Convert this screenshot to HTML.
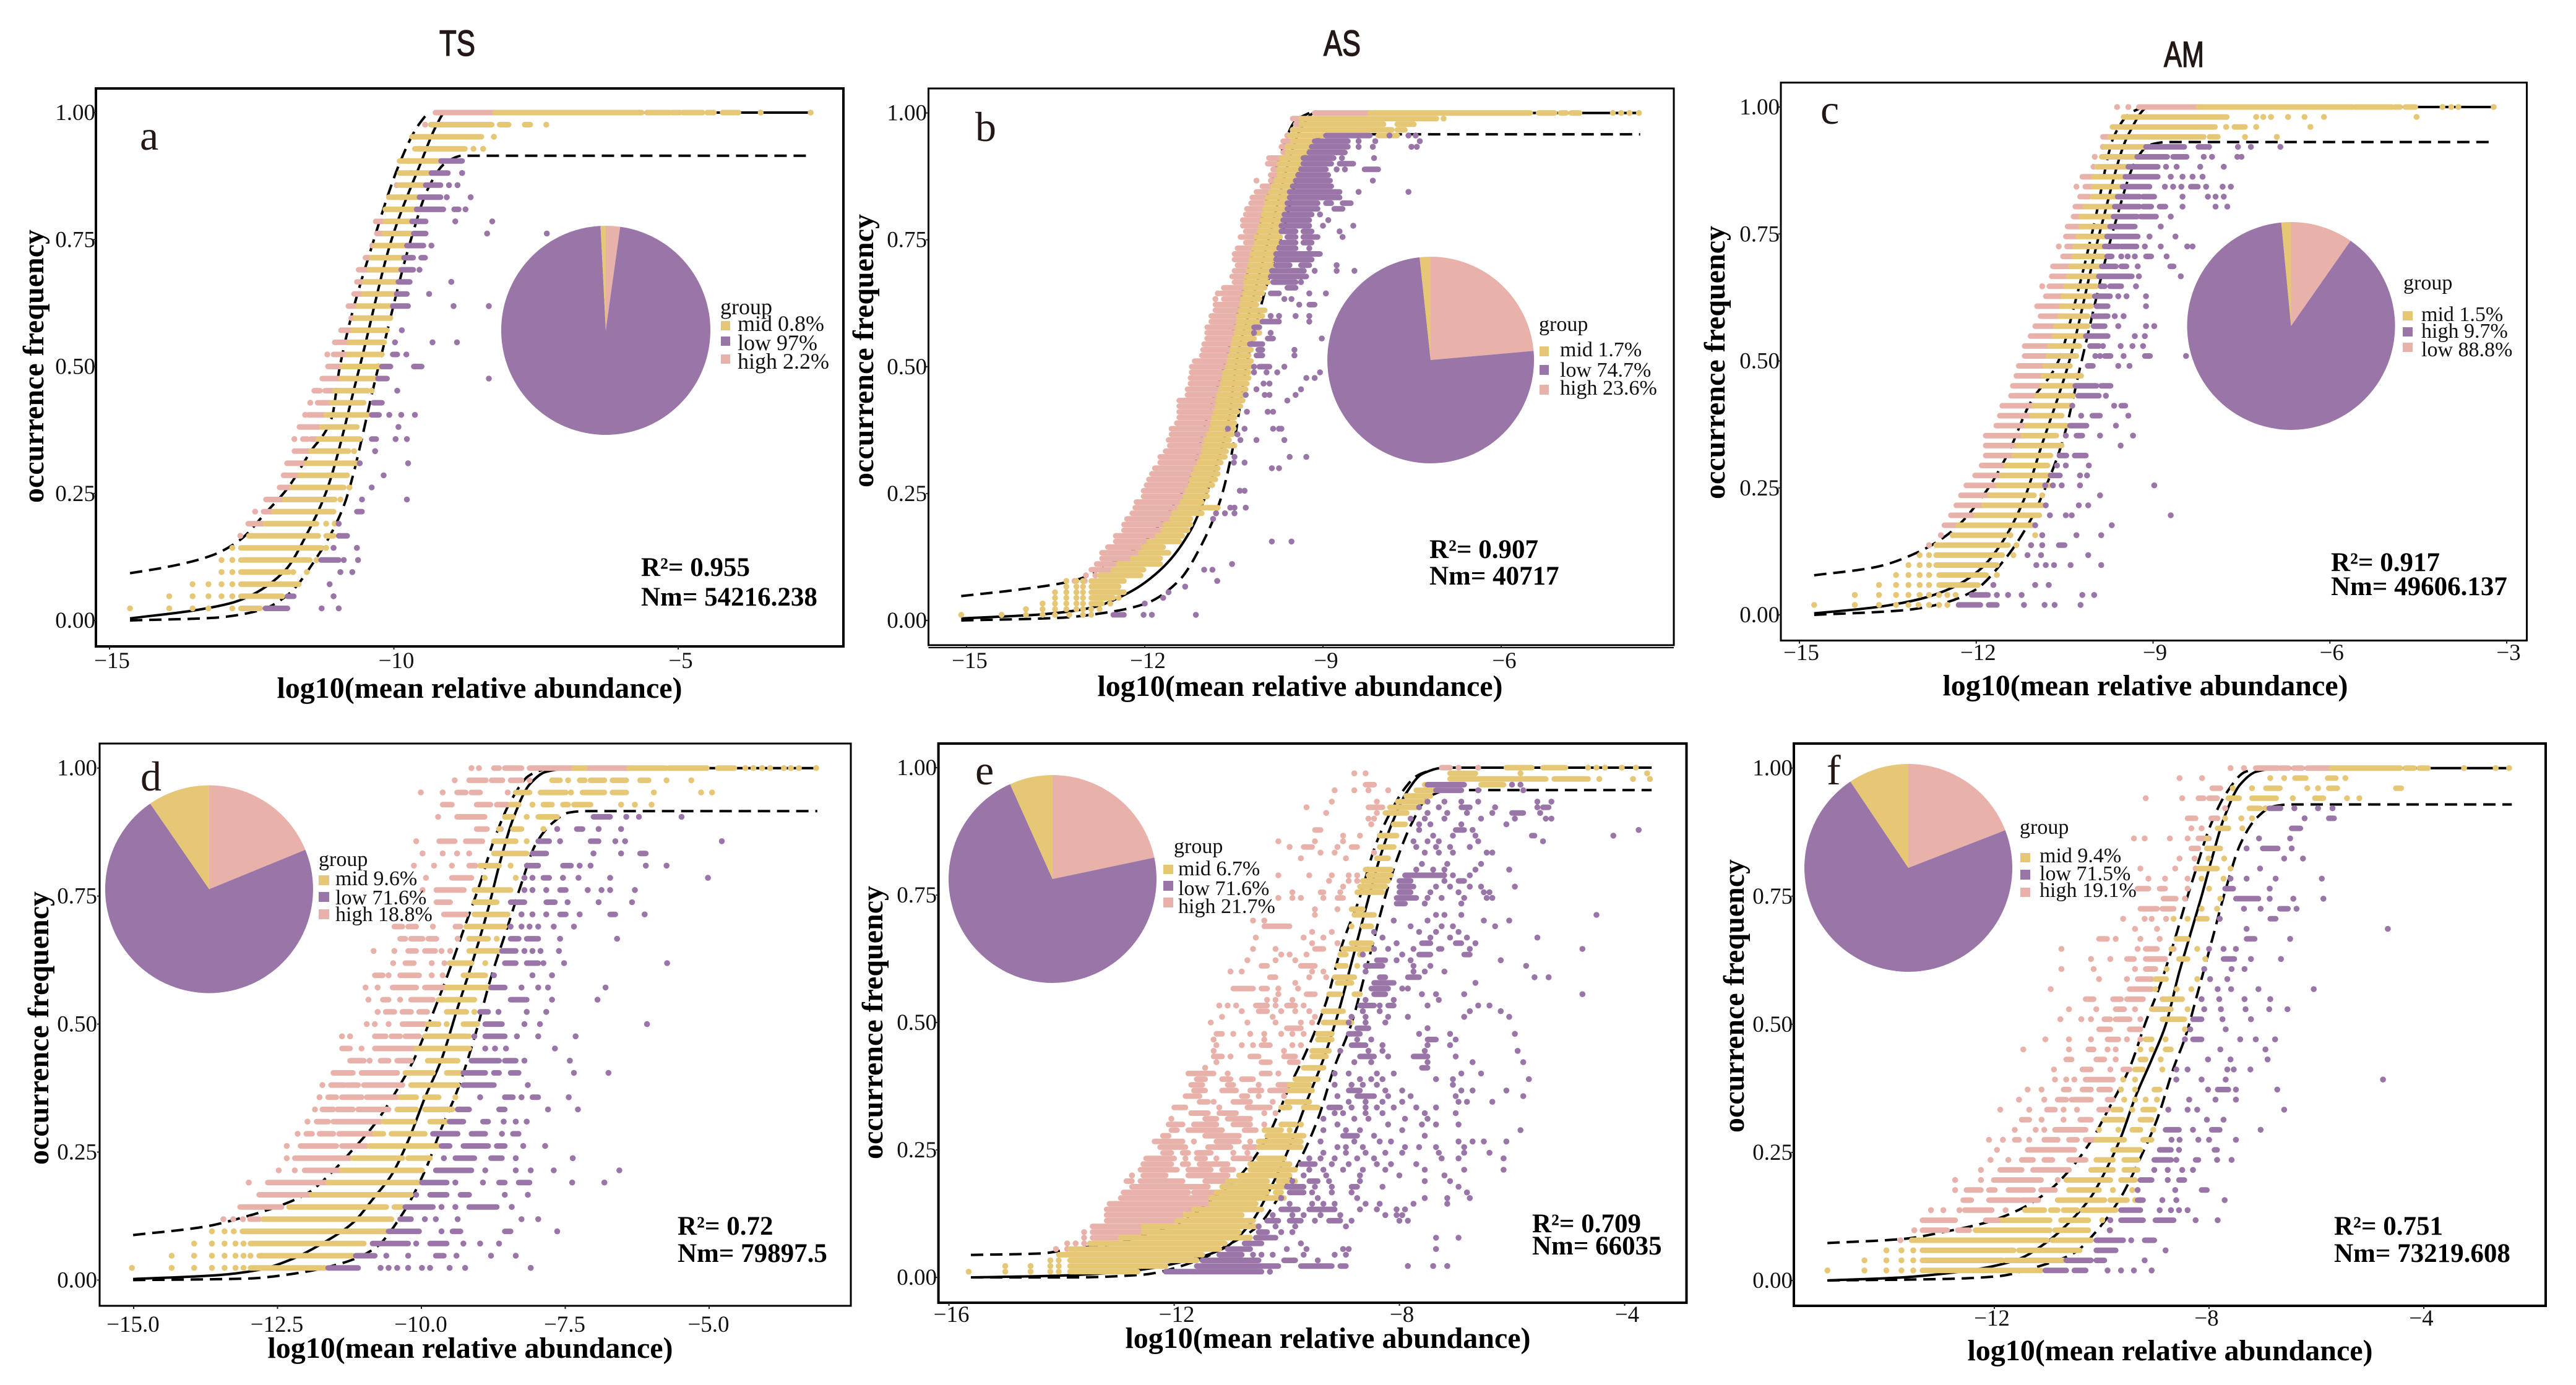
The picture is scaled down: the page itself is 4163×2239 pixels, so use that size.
<!DOCTYPE html>
<html lang="en">
<head>
<meta charset="utf-8">
<title>Neutral community model fits</title>
<style>
html,body{margin:0;padding:0;background:#fff}
svg{display:block}
text{font-family:"Liberation Serif","Noto Serif CJK SC",serif;fill:#000}
.tick{font-size:37px;fill:#111}
.axt{font-size:48px;font-weight:bold}
.leg{font-size:34px;fill:#111}
#panel-a .leg{font-size:36px}
.stat{font-size:43px;font-weight:bold}
.lab{font-size:68px;fill:#231815}
.ttl{font-family:"Liberation Sans","Noto Sans CJK SC",sans-serif;font-size:58px;fill:#231815;stroke:#231815;stroke-width:1.5px}
</style>
</head>
<body>
<svg id="fig" xmlns="http://www.w3.org/2000/svg" width="4163" height="2239" viewBox="0 0 4163 2239">
<rect width="4163" height="2239" fill="#fff"/>

<text class="ttl" x="710" y="90" textLength="58" lengthAdjust="spacingAndGlyphs">TS</text>
<text class="ttl" x="2139" y="90" textLength="60" lengthAdjust="spacingAndGlyphs">AS</text>
<text class="ttl" x="3497" y="108" textLength="65" lengthAdjust="spacingAndGlyphs">AM</text>

<!-- panel a -->
<g id="panel-a">
<g id="a-marks"></g>
<text class="lab" x="226" y="242">a</text>
<text class="axt" x="775" y="1128" text-anchor="middle">log10(mean relative abundance)</text>
<text class="axt" transform="translate(70,592) rotate(-90)" text-anchor="middle">occurrence frequency</text>
<g>
<text class="leg" x="1164" y="508">group</text>
<rect x="1165" y="519" width="15" height="15" fill="#E5C776"/>
<text class="leg" x="1192" y="535">mid 0.8%</text>
<rect x="1165" y="544" width="15" height="15" fill="#9A75A8"/>
<text class="leg" x="1192" y="566">low 97%</text>
<rect x="1165" y="573" width="15" height="15" fill="#E8B2AA"/>
<text class="leg" x="1192" y="596">high 2.2%</text>
</g>
<text class="stat" x="1036" y="931">R²= 0.955</text>
<text class="stat" x="1036" y="979">Nm= 54216.238</text>
</g>

<!-- panel b -->
<g id="panel-b">
<g id="b-marks"></g>
<text class="lab" x="1576" y="228">b</text>
<text class="axt" x="2101" y="1125" text-anchor="middle">log10(mean relative abundance)</text>
<text class="axt" transform="translate(1411,567) rotate(-90)" text-anchor="middle">occurrence frequency</text>
<g>
<text class="leg" x="2487" y="535">group</text>
<rect x="2488" y="560" width="15" height="16" fill="#E5C776"/>
<text class="leg" x="2521" y="576">mid 1.7%</text>
<rect x="2488" y="590" width="15" height="16" fill="#9A75A8"/>
<text class="leg" x="2521" y="609">low 74.7%</text>
<rect x="2488" y="622" width="15" height="16" fill="#E8B2AA"/>
<text class="leg" x="2521" y="638">high 23.6%</text>
</g>
<text class="stat" x="2310" y="902">R²= 0.907</text>
<text class="stat" x="2310" y="945">Nm= 40717</text>
</g>

<!-- panel c -->
<g id="panel-c">
<g id="c-marks"></g>
<text class="lab" x="2942" y="200">c</text>
<text class="axt" x="3467" y="1124" text-anchor="middle">log10(mean relative abundance)</text>
<text class="axt" transform="translate(2787,586) rotate(-90)" text-anchor="middle">occurrence frequency</text>
<g>
<text class="leg" x="3884" y="468">group</text>
<rect x="3883" y="503" width="16" height="15" fill="#E5C776"/>
<text class="leg" x="3913" y="519">mid 1.5%</text>
<rect x="3883" y="529" width="16" height="15" fill="#9A75A8"/>
<text class="leg" x="3913" y="546">high 9.7%</text>
<rect x="3883" y="554" width="16" height="15" fill="#E8B2AA"/>
<text class="leg" x="3913" y="576">low 88.8%</text>
</g>
<text class="stat" x="3767" y="923">R²= 0.917</text>
<text class="stat" x="3767" y="962">Nm= 49606.137</text>
</g>

<!-- panel d -->
<g id="panel-d">
<g id="d-marks"></g>
<text class="lab" x="227" y="1278">d</text>
<text class="axt" x="760" y="2195" text-anchor="middle">log10(mean relative abundance)</text>
<text class="axt" transform="translate(78,1662) rotate(-90)" text-anchor="middle">occurrence frequency</text>
<g>
<text class="leg" x="515" y="1400">group</text>
<rect x="515" y="1415" width="17" height="16" fill="#E5C776"/>
<text class="leg" x="542" y="1431">mid 9.6%</text>
<rect x="515" y="1442" width="17" height="16" fill="#9A75A8"/>
<text class="leg" x="542" y="1462">low 71.6%</text>
<rect x="515" y="1470" width="17" height="16" fill="#E8B2AA"/>
<text class="leg" x="542" y="1489">high 18.8%</text>
</g>
<text class="stat" x="1095" y="1996">R²= 0.72</text>
<text class="stat" x="1095" y="2040">Nm= 79897.5</text>
</g>

<!-- panel e -->
<g id="panel-e">
<g id="e-marks"></g>
<text class="lab" x="1576" y="1268">e</text>
<text class="axt" x="2146" y="2179" text-anchor="middle">log10(mean relative abundance)</text>
<text class="axt" transform="translate(1426,1653) rotate(-90)" text-anchor="middle">occurrence frequency</text>
<g>
<text class="leg" x="1897" y="1379">group</text>
<rect x="1880" y="1398" width="16" height="15" fill="#E5C776"/>
<text class="leg" x="1904" y="1415">mid 6.7%</text>
<rect x="1880" y="1424" width="16" height="16" fill="#9A75A8"/>
<text class="leg" x="1904" y="1447">low 71.6%</text>
<rect x="1880" y="1451" width="16" height="16" fill="#E8B2AA"/>
<text class="leg" x="1904" y="1476">high 21.7%</text>
</g>
<text class="stat" x="2476" y="1992">R²= 0.709</text>
<text class="stat" x="2476" y="2028">Nm= 66035</text>
</g>

<!-- panel f -->
<g id="panel-f">
<g id="f-marks"></g>
<text class="lab" x="2952" y="1268">f</text>
<text class="axt" x="3507" y="2199" text-anchor="middle">log10(mean relative abundance)</text>
<text class="axt" transform="translate(2818,1610) rotate(-90)" text-anchor="middle">occurrence frequency</text>
<g>
<text class="leg" x="3264" y="1348">group</text>
<rect x="3265" y="1379" width="16" height="15" fill="#E5C776"/>
<text class="leg" x="3296" y="1394">mid 9.4%</text>
<rect x="3265" y="1406" width="16" height="16" fill="#9A75A8"/>
<text class="leg" x="3296" y="1423">low 71.5%</text>
<rect x="3265" y="1435" width="16" height="15" fill="#E8B2AA"/>
<text class="leg" x="3296" y="1450">high 19.1%</text>
</g>
<text class="stat" x="3772" y="1996">R²= 0.751</text>
<text class="stat" x="3772" y="2040">Nm= 73219.608</text>
</g>
</svg>

<script>
// Row format: [occupied-sample count, dot, dot, [run start, run end], ...]; x values are log10 mean relative abundance.
const yTickValues=[0,0.25,0.5,0.75,1];

// ---------- panel a (TS, 42 samples)
const aXTicks=[-15,-10,-5];
const aPie=[2.2,97,0.8];
const aFitX=[-14.64,-13.5,-12.84,-12.5,-11.9,-11.53,-11.2,-10.6,-10.04,-9.53,-9.25,-9.1,-2.67];
const aFitY=[.004,.02,.035,.05,.1,.17,.25,.5,.75,.9,.975,1,1];
const aUpX=[-14.64,-14,-13.2,-12.7,-12.25,-11.87,-11.48,-11.09,-10.95,-10.35,-9.9,-9.6,-9.4];
const aUpY=[.093,.105,.128,.159,.2125,.26,.33,.4,.5,.75,.9,.97,1];
const aLoX=[-14.64,-13.2,-12.35,-11.87,-11.38,-10.9,-10.27,-9.7,-9.4,-9.1,-8.8,-2.67];
const aLoY=[0,.005,.02,.05,.12,.22,.5,.75,.85,.9,.915,.915];
const aHigh=[[42,[-9.27,-8.22]],[41,-9.45],[39,-9.55],[38,-9.75],[37,-9.7],[36,-9.95],[35,-9.87],[33,[-10.32,-10.2]],[32,[-10.3,-10.2]],[31,-10.38],[30,[-10.5,-10.43]],[29,[-10.62,-10.45]],[28,[-10.65,-10.55]],[27,[-10.7,-10.55]],[26,[-10.8,-10.65]],[25,[-10.75,-10.68]],[24,[-10.93,-10.75]],[23,[-11.04,-10.78]],[22,-11.17,[-11.06,-10.8]],[21,[-11.16,-10.92]],[20,[-11.26,-10.95]],[19,[-11.4,-11.3],[-11.21,-11.06]],[18,-11.47,[-11.34,-11.12]],[17,-11.56,[-11.5,-11.21]],[16,[-11.66,-11.31]],[15,-11.75,[-11.6,-11.52],[-11.46,-11.36]],[14,[-11.75,-11.48]],[13,[-11.88,-11.55]],[12,[-11.94,-11.67]],[11,[-12.01,-11.82]],[10,[-12.25,-11.95]],[9,-12.44,[-12.29,-12.13]],[8,[-12.56,-12.3]],[7,-12.7]];
const aMid=[[42,[-8.22,-5.64],[-5.55,-5.16],[-5.12,-4.97],[-4.92,-4.57],[-4.49,-4.37],[-4.22,-3.94],-3.55,-2.67],[41,[-9.35,-8.28],[-8.14,-7.98],[-7.7,-7.6],-7.32],[40,[-9.68,-8.46],-8.24],[39,[-9.63,-8.75],-8.6,-8.43],[38,[-9.9,-9.17]],[37,[-9.9,-9.34]],[36,[-9.91,-9.44]],[35,[-10.09,-9.55]],[34,[-10.15,-9.6]],[33,[-10.15,-9.66]],[32,[-10.17,-9.7]],[31,[-10.33,-9.77]],[30,[-10.39,-9.84]],[29,[-10.43,-9.9]],[28,[-10.51,-9.95]],[27,[-10.53,-9.98]],[26,[-10.63,-10.04]],[25,[-10.68,-10.06]],[24,[-10.72,-10.12]],[23,[-10.78,-10.17]],[22,[-10.8,-10.21]],[21,[-10.9,-10.23]],[20,[-10.93,-10.31]],[19,[-11.04,-10.46],-10.39],[18,[-11.09,-10.53]],[17,[-11.19,-10.46]],[16,[-11.27,-10.65]],[15,[-11.33,-10.6]],[14,[-11.46,-10.8],-10.7],[13,[-11.53,-10.65]],[12,[-11.65,-10.82]],[11,[-11.79,-10.88],-10.78],[10,[-11.92,-11.04],-10.94],[9,[-12.11,-11.06]],[8,[-12.26,-11.36],-11.19,-11.04],[7,[-12.55,-11.33],[-11.19,-11.06]],[6,-12.84,[-12.69,-11.28],-11.19],[5,-13.03,-12.84,[-12.69,-11.48],-11.36],[4,-13.03,-12.84,[-12.69,-11.85],-11.77,-11.53],[3,-13.54,-13.26,-13.03,-12.84,[-12.69,-11.67]],[2,-13.95,-13.54,-13.26,-13.03,-12.84,[-12.69,-11.96]],[1,-14.64,-13.95,-13.54,-13.26,-12.84,[-12.69,-12.35]]];
const aLow=[[38,[-9.17,-8.8]],[37,[-9.34,-9.05],-8.8],[36,[-9.44,-9.18],-9.03,-8.88],[35,[-9.55,-9.18],-9.07,-8.65],[34,[-9.6,-9.13],[-8.94,-8.86],-8.74],[33,[-9.68,-9.44],-8.92,-8.27],[32,[-9.65,-9.44],-8.36,-7.31],[31,[-9.77,-9.48],-9.34],[30,[-9.82,-9.66],[-9.52,-9.45]],[29,[-9.87,-9.66],-9.55],[28,[-9.92,-9.72],-8.99],[27,[-9.95,-9.77],-9.38],[26,[-10.02,-9.75],-8.95,-8.33],[24,-9.86],[23,-9.98,-9.32,-8.89],[22,[-10.02,-9.94],-9.78],[21,[-10.21,-10.06],[-9.65,-9.51]],[20,[-10.28,-10.12],-8.33],[19,-9.94],[18,[-10.36,-10.21]],[17,[-10.39,-10.26],-10.08,-9.87,-9.63],[16,-9.92],[15,[-10.39,-10.31],-9.97,-9.77],[14,-10.33],[13,-10.6,-9.75],[12,-10.18],[11,-10.39],[10,-10.56,-9.77],[9,[-10.65,-10.56]],[8,-10.97],[7,[-10.97,-10.82]],[6,-11.06,-10.65],[5,[-11.28,-10.97],-10.88,-10.63],[4,-10.94,-10.73],[3,-11.13],[2,[-11.87,-11.76],-11.06],[1,[-12.26,-11.87],-11.27,-10.97]];

// ---------- panel b (AS, 90 samples)
const bXTicks=[-15,-12,-9,-6];
const bPie=[23.6,74.7,1.7];
const bFitX=[-15.09,-13.74,-12.9,-12.25,-11.69,-11.23,-10.86,-10.58,-10.46,-10.21,-9.86,-9.56,-9.37,-9.14,-3.66];
const bFitY=[.004,.012,.025,.056,.105,.177,.284,.4,.508,.62,.776,.91,.97,1,1];
const bUpX=[-15.09,-14.11,-13.18,-12.53,-11.97,-11.6,-11.23,-10.95,-10.65,-10.39,-10.07,-9.74,-9.46,-9.23];
const bUpY=[.048,.061,.079,.115,.159,.213,.284,.4,.508,.63,.776,.91,.985,1];
const bLoX=[-15.09,-13.46,-12.62,-11.97,-11.42,-11.04,-10.72,-10.49,-10.28,-10.02,-9.65,-9.33,-9,-8.72,-3.66];
const bLoY=[0,.005,.016,.034,.079,.15,.24,.356,.508,.63,.776,.91,.955,.958,.958];
const bHigh=[[90,[-9.14,-8.21]],[89,[-9.51,-9.37]],[88,[-9.46,-9.37]],[87,-9.51],[86,-9.6],[85,[-9.67,-9.51]],[84,[-9.7,-9.6]],[83,[-9.67,-9.6]],[82,[-9.91,-9.7]],[81,[-9.93,-9.74]],[80,[-9.84,-9.74]],[79,[-9.88,-9.74]],[78,-10.12,[-9.88,-9.79]],[77,[-10.02,-9.84]],[76,[-10.12,-9.88]],[75,[-10.19,-9.93]],[74,[-10.21,-9.95]],[73,[-10.28,-9.98]],[72,[-10.3,-10.0]],[71,[-10.35,-10.02]],[70,[-10.35,-10.05]],[69,[-10.3,-10.07]],[68,[-10.39,-10.12]],[67,[-10.3,-10.12]],[66,[-10.44,-10.16]],[65,[-10.49,-10.19]],[64,[-10.49,-10.21]],[63,[-10.44,-10.23]],[62,[-10.49,-10.25]],[61,[-10.53,-10.28]],[60,[-10.49,-10.3]],[59,[-10.67,-10.3]],[58,-10.77,[-10.72,-10.32]],[57,-10.81,[-10.67,-10.35]],[56,[-10.81,-10.37]],[55,[-10.81,-10.39]],[54,[-10.88,-10.42]],[53,[-10.88,-10.42]],[52,[-10.95,-10.44]],[51,[-10.95,-10.46]],[50,[-10.95,-10.49]],[49,[-11,-10.51]],[48,[-11.02,-10.53]],[47,[-11.04,-10.56]],[46,[-11.16,-10.58]],[45,[-11.21,-10.6]],[44,[-11.21,-10.65]],[43,[-11.23,-10.67]],[42,[-11.23,-10.69]],[41,[-11.28,-10.72]],[40,[-11.28,-10.75]],[39,[-11.42,-10.77]],[38,[-11.42,-10.78]],[37,[-11.42,-10.81]],[36,[-11.42,-10.84]],[35,[-11.46,-10.86]],[34,[-11.55,-10.88]],[33,[-11.55,-10.93]],[32,[-11.6,-10.97]],[31,[-11.58,-10.99]],[30,[-11.65,-11.01]],[29,[-11.74,-11.04]],[28,[-11.74,-11.08]],[27,[-11.83,-11.14]],[26,[-11.88,-11.18]],[25,[-11.93,-11.21]],[24,[-11.97,-11.23]],[23,[-12.02,-11.28]],[22,[-12.02,-11.32]],[21,[-12.14,-11.37]],[20,[-12.16,-11.42]],[19,[-12.21,-11.51]],[18,[-12.3,-11.55]],[17,[-12.35,-11.65]],[16,[-12.35,-11.69]],[15,[-12.49,-11.79]],[14,[-12.49,-11.93]],[13,[-12.62,-12.02]],[12,[-12.72,-12.07]],[11,[-12.72,-12.21]],[10,[-12.81,-12.44]],[9,[-12.9,-12.53]],[8,-12.99,-12.83],[7,-13.18,-13.01]];
const bMid=[[90,[-8.21,-5.51],[-5.37,-5.1],[-5,-4.91],[-4.82,-4.68],-4.12,-3.98,-3.84,-3.68],[89,[-9.37,-7.09],-6.97],[88,[-9.37,-7.98],[-7.75,-7.47]],[87,[-9.51,-7.84],[-7.75,-7.62]],[86,[-9.56,-9],[-8.07,-7.75]],[85,[-9.51,-9.14]],[84,[-9.6,-9.19]],[83,[-9.6,-9.23]],[82,[-9.7,-9.33]],[81,[-9.74,-9.33]],[80,[-9.74,-9.37]],[79,[-9.74,-9.42]],[78,[-9.79,-9.46]],[77,[-9.84,-9.51]],[76,[-9.88,-9.56]],[75,[-9.93,-9.56]],[74,[-9.95,-9.6]],[73,[-9.98,-9.6]],[72,[-10.0,-9.65]],[71,[-10.02,-9.67]],[70,[-10.05,-9.7]],[69,[-10.07,-9.7]],[68,[-10.12,-9.72]],[67,[-10.12,-9.74]],[66,[-10.16,-9.79]],[65,[-10.19,-9.79]],[64,[-10.21,-9.81]],[63,[-10.23,-9.84]],[62,[-10.25,-9.86]],[61,[-10.28,-9.91]],[60,[-10.3,-9.93]],[59,[-10.3,-9.98]],[58,[-10.32,-10.02]],[57,[-10.35,-10.07]],[56,[-10.37,-10.12]],[55,[-10.39,-9.98]],[54,[-10.42,-10.02]],[53,[-10.42,-10.07]],[52,[-10.44,-10.12]],[51,[-10.46,-10.07]],[50,[-10.49,-10.16]],[49,[-10.51,-10.23]],[48,[-10.53,-10.21]],[47,[-10.56,-10.25]],[46,[-10.58,-10.21]],[45,[-10.6,-10.21]],[44,[-10.65,-10.25]],[43,[-10.67,-10.25]],[42,[-10.69,-10.28]],[41,[-10.72,-10.3]],[40,[-10.75,-10.32]],[39,[-10.77,-10.35]],[38,[-10.78,-10.39]],[37,[-10.81,-10.44]],[36,[-10.84,-10.49]],[35,[-10.86,-10.49]],[34,[-10.88,-10.5]],[33,[-10.93,-10.53]],[32,[-10.97,-10.58]],[31,[-10.99,-10.49]],[30,[-11.01,-10.63]],[29,[-11.04,-10.65]],[28,[-11.08,-10.72]],[27,[-11.14,-10.77]],[26,[-11.18,-10.77]],[25,[-11.21,-10.81]],[24,[-11.23,-10.86]],[23,[-11.28,-10.95]],[22,[-11.32,-10.95]],[21,[-11.37,-11.04]],[20,[-11.42,-10.77]],[19,[-11.51,-11.04]],[18,[-11.55,-11.23]],[17,[-11.65,-11.23]],[16,[-11.69,-11.28]],[15,[-11.79,-11.37]],[14,[-11.93,-11.42]],[13,[-12.02,-11.69]],[12,[-12.07,-11.6]],[11,[-12.21,-11.74]],[10,[-12.44,-11.74]],[9,[-12.53,-12.02]],[8,[-12.76,-12.07]],[7,-13.32,-13.15,-13.04,[-12.9,-12.35]],[6,-13.32,-13.15,-13.04,[-12.9,-12.44]],[5,-13.51,-13.32,-13.15,-13.04,[-12.9,-12.35]],[4,-13.51,-13.32,-13.15,-13.04,[-12.9,-12.53],-12.44],[3,-13.72,-13.51,-13.32,-13.15,-13.04,[-12.9,-12.72],-12.58],[2,-14,-13.72,-13.51,-13.32,-13.15,-13.04,-12.9,-12.76],[1,-15.09,-14.41,-14,-13.72,-13.51,-13.27,-13.04,-12.9]];
const bLow=[[86,[-8.95,-8.21],-7.88,-7.56,-7.44],[85,[-9.14,-8.58],-8.4,-8.12,-7.37],[84,[-9.19,-8.58],-8.4,-8.16,-7.51,-7.42],[83,[-9.23,-8.63]],[82,[-9.33,-8.82],-8.68,-8.14],[81,[-9.33,-8.86],[-8.72,-8.49]],[80,[-9.37,-8.95],-8.77,-8.63,[-8.3,-8.07]],[79,[-9.42,-8.91]],[78,[-9.46,-8.88],-8.16],[77,[-9.51,-8.86]],[76,[-9.56,-8.72],-8.4,-7.56],[75,[-9.56,-8.72]],[74,[-9.6,-9.09],[-8.95,-8.86],[-8.67,-8.53]],[73,[-9.6,-9.09],[-8.81,-8.67]],[72,[-9.65,-9.19],-9.05],[71,[-9.67,-9.23],-8.91],[70,[-9.7,-9.23],-9,-8.49],[69,[-9.7,-9.46],[-9.33,-9.19],-8.72],[68,[-9.6,-9.46],[-9.33,-9.09],-8.67],[67,[-9.7,-9.46],[-9.33,-9.19]],[66,[-9.74,-9.46],-9.23],[65,[-9.79,-9.05]],[64,[-9.79,-9.19]],[63,[-9.79,-9.56],[-9.37,-9.23],-8.77],[62,[-9.86,-9.32],-9.14,-8.77,-8.47],[61,[-9.88,-9.28]],[60,[-9.84,-9.46],-9.37],[59,[-9.6,-9.46]],[58,[-9.88,-9.74],-9.23,-8.95],[57,-9.65,-9.53],[56,-9.4,[-9.23,-9.14]],[54,-9.88,-9.74,-9.46,-9.23],[53,[-10.02,-9.74],-9.23],[52,[-10.16,-10.07]],[51,-10.16,-9.88],[50,[-9.93,-9.84],-9.02],[49,[-10.23,-10.02]],[48,[-10.09,-10.02],-9.48],[47,[-10.12,-10.02],-9.48],[45,-10.16,[-10.07,-9.9],-9.65],[44,-10.16,-9.95,-9.77,-9.05],[43,-9.28,-9.14],[42,-10.0,-9.9],[41,-10.12,-9.37],[40,-10.3,-9.98,-9.9,-9.46],[39,-9.6],[37,-9.93,-9.84,-10.28],[34,-10.6,-10.32,-9.84,-9.74,-9.7],[33,-10.44],[32,-10.39,-10.12,-9.65],[29,-10.49,-9.28,-9.56],[28,-10.5,-10.32],[27,-9.74,-9.86],[23,-10.4,-10.32],[20,-10.56,-10.49,-10.3],[19,-10.8,-10.65,-10.49],[18,-10.85],[14,-9.86,-9.53],[10,-10.53],[9,-10.86,-11],[7,-10.78],[6,-11.32],[5,-11.6],[4,-11.69],[3,-12],[1,[-12.53,-12.35],-12.02,-11.88,-11.14]];

// ---------- panel c (AM, 51 samples)
const cXTicks=[-15,-12,-9,-6,-3];
const cPie=[9.7,88.8,1.5];
const cFitX=[-14.75,-13.71,-12.96,-12.4,-11.93,-11.56,-11.18,-10.9,-10.43,-9.88,-9.43,-9.07,-3.22];
const cFitY=[.003,.015,.031,.054,.09,.143,.23,.33,.496,.764,.943,1,1];
const cUpX=[-14.75,-13.71,-12.96,-12.4,-11.84,-11.46,-11.09,-10.62,-10.29,-10.01,-9.66,-9.4,-9.17];
const cUpY=[.078,.094,.125,.166,.242,.318,.416,.496,.63,.764,.943,.987,1];
const cLoX=[-14.75,-13.24,-12.59,-12.02,-11.56,-11.09,-10.81,-10.53,-10.22,-9.66,-9.28,-9.07,-8.75,-3.22];
const cLoY=[0,.009,.022,.049,.103,.184,.255,.344,.496,.764,.897,.925,.931,.931];
const cHigh=[[51,-9.61,-9.42,[-9.24,-8.23]],[48,[-9.85,-9.73]],[47,-9.85],[46,-9.99],[45,-10.01],[44,[-10.2,-10.01]],[43,-10.3,[-10.15,-10.03]],[42,[-10.24,-10.08]],[41,[-10.32,-10.15]],[40,[-10.35,-10.22]],[39,[-10.45,-10.22]],[38,[-10.48,-10.27]],[37,-10.6,[-10.46,-10.32]],[36,[-10.53,-10.34]],[35,[-10.7,-10.39]],[34,[-10.72,-10.43]],[33,-10.88,[-10.76,-10.48]],[32,[-10.82,-10.53]],[31,[-10.97,-10.55]],[30,[-10.91,-10.58]],[29,[-11,-10.65]],[28,[-11.08,-10.68]],[27,[-11.18,-10.75]],[26,[-11.18,-10.78]],[25,[-11.28,-10.83]],[24,[-11.32,-10.86]],[23,[-11.38,-10.88]],[22,[-11.41,-10.97]],[21,[-11.56,-11.02]],[20,[-11.6,-11.06]],[19,[-11.66,-11.14]],[18,[-11.84,-11.2]],[17,[-11.84,-11.3]],[16,[-11.84,-11.36]],[15,[-11.91,-11.49]],[14,[-12.02,-11.57]],[13,[-12.17,-11.63]],[12,[-12.26,-11.77]],[11,[-12.34,-11.87]],[10,[-12.43,-12]],[9,[-12.54,-12.23]],[8,-12.6,-12.4],[7,-12.8]];
const cMid=[[51,[-8.23,-5.61],[-5.58,-4.95],[-4.9,-4.81],[-4.72,-4.55],-4.09,-3.94,-3.82,-3.22],[50,[-9.5,-7.75],-7.25,-7.13,-7,-6.71,-6.43,-6.1,-4.53],[49,[-9.69,-7.95],-7.76,[-7.62,-7.44],-7.25,-6.33],[48,[-9.73,-8.14],[-8.04,-7.9],-7.44,-6.9],[47,[-9.83,-9.12]],[46,[-9.87,-9.27]],[45,[-9.95,-9.42]],[44,[-10.01,-9.49]],[43,[-10.01,-9.55]],[42,[-10.03,-9.6]],[41,[-10.15,-9.65]],[40,[-10.22,-9.7]],[39,[-10.22,-9.75]],[38,[-10.27,-9.79]],[37,[-10.32,-9.84]],[36,[-10.34,-9.84]],[35,[-10.39,-9.9]],[34,[-10.43,-9.95]],[33,[-10.48,-9.96]],[32,[-10.53,-10.06]],[31,[-10.55,-10.05]],[30,[-10.58,-10.11]],[29,[-10.65,-10.11]],[28,[-10.68,-10.14]],[27,[-10.75,-10.25]],[26,[-10.78,-10.3]],[25,[-10.83,-10.41]],[24,[-10.86,-10.22]],[23,[-10.88,-10.36]],[22,[-10.97,-10.36]],[21,[-11.02,-10.41]],[20,[-11.06,-10.55]],[19,[-11.14,-10.46]],[18,[-11.2,-10.64]],[17,[-11.3,-10.55]],[16,[-11.36,-10.74]],[15,[-11.49,-10.79]],[14,[-11.57,-10.74]],[13,[-11.63,-10.77]],[12,[-11.77,-11.02],-10.88],[11,[-11.87,-10.88]],[10,[-12,-10.93]],[9,[-12.31,-11.03]],[8,[-12.4,-11.51],-11.42,-11],[7,[-12.68,-11.46],-11.32],[6,-12.96,-12.8,[-12.68,-11.56],-11.37],[5,-13.15,-12.96,-12.8,[-12.68,-11.65]],[4,-13.36,-13.15,-12.96,-12.8,[-12.63,-11.83],-11.65],[3,-13.65,-13.36,-13.15,-12.96,-12.8,[-12.63,-11.97]],[2,-14.06,-13.65,-13.36,-13.15,-12.96,-12.8,-12.63,-12.49,-12.35],[1,-14.75,-14.06,-13.65,-13.36,-13.15,-12.98,-12.8,-12.63,-12.49]];
const cLow=[[47,[-9.12,-8.47],[-8.23,-8.09],-8.05,-7.56,-7.34,-6.84],[46,[-9.27,-8.76],[-8.66,-8.43],-8.14,-8,-7.57,-7.5],[45,[-9.42,-8.92],-8.78,-8.6,-8.2,-7.8],[44,[-9.47,-8.92],-8.7,-8.5,-8.33,-8.16],[43,[-9.52,-9.06],-8.8,-8.66,-8.52,[-8.36,-8.24],-8.1,-7.82,-7.68],[42,[-9.6,-9.23],[-9.17,-8.98],-8.5,-8.07,-7.94,-7.8],[41,[-9.65,-9.23],[-9.17,-9.03],[-8.89,-8.79],-8.5,-7.94,-7.74],[40,[-9.67,-9.27],[-9.21,-8.95],-8.7],[39,[-9.73,-9.31],-8.87],[38,[-9.78,-9.26],-9.06,-8.62],[37,[-9.82,-9.58],[-9.54,-9.28],-9.14,-8.87,-8.42,-8.33],[36,[-9.78,-9.7],-9.54,-9.43,-9.31,[-9.12,-9.03],-8.77],[35,[-9.87,-9.63],[-9.54,-9.45],-9.26,[-8.71,-8.65]],[34,[-9.92,-9.36],-9.24,-8.53],[33,[-9.89,-9.82],[-9.73,-9.54],-9.29],[32,[-9.99,-9.73],-9.59,-9.45,-9.12],[31,[-9.96,-9.77],-9.12],[30,[-10.01,-9.77],-9.65,-9.5],[29,[-10.01,-9.82],-9.59,-9.12,-8.98],[28,[-10.14,-9.77],-9.31,-9.14],[27,[-10.07,-9.92],-9.85,-9.55,-9.35,-9.17],[26,-9.9,-9.98,[-9.82,-9.72],-9.5,[-9.14,-9.05],-8.44],[25,[-10.11,-10.02],-9.59,-9.4],[23,[-10.32,-9.96],[-9.88,-9.72]],[22,[-10.27,-9.92],-9.8],[21,-10.37,-9.66,[-9.54,-9.47]],[20,-10.22,[-10.03,-9.9],-9.42],[19,[-10.41,-10.13],-9.63],[18,-10.48,[-10.3,-10.2],-9.9,-9.34],[17,-9.55],[16,[-10.59,-10.47],[-10.33,-10.14]],[15,-10.63,-10.48,-10.09],[14,[-10.74,-10.58],-10.24,-10.12],[13,-10.83,-10.7,-10.55,-10.24,-8.98],[12,-9.9],[11,-10.82,-10.26,-10.1],[10,-10.75,-10.48,-10.38,-8.7],[9,-11,-9.7],[8,-10.88,-10.3,-9.88],[7,-11.07,-10.88,[-10.6,-10.5]],[6,-11.13,-10.9,-10.1],[5,-10.98,-10.82,-10.68,-10.4,-9.88],[3,-11.71,-11.0,-10.77],[2,[-12.08,-11.8],-11.65,-11.46,-11.23,-10.2,-10],[1,[-12.3,-11.93],[-11.79,-11.65],-11.19,-10.84,-10.67,-10.23]];

// ---------- panel d (TS, 42 samples)
const dXTicks=[-15,-12.5,-10,-7.5,-5];
const dPie=[18.8,71.6,9.6];
const dFitX=[-15.01,-13.5,-12.82,-12.25,-11.67,-11.19,-10.81,-10.52,-10.23,-9.94,-9.65,-9.37,-9.08,-8.84,-8.65,-8.41,-8.12,-7.83,-7.35,-3.14];
const dFitY=[.002,.01,.02,.041,.075,.112,.163,.205,.272,.356,.431,.532,.633,.725,.809,.9,.968,.993,1,1];
const dUpX=[-15.01,-13.78,-13.02,-12.44,-11.96,-11.58,-11.19,-10.81,-10.42,-10.13,-9.85,-9.56,-9.27,-8.98,-8.74,-8.45,-8.12,-7.83,-7.64];
const dUpY=[.088,.104,.125,.146,.171,.208,.255,.305,.372,.431,.507,.591,.683,.775,.859,.935,.986,.998,1];
const dLoX=[-15.01,-13.02,-12.25,-11.38,-10.81,-10.33,-9.94,-9.65,-9.37,-9.08,-8.79,-8.5,-8.26,-8.02,-7.73,-7.44,-7.16,-3.12];
const dLoY=[0,.003,.012,.033,.062,.129,.213,.297,.372,.473,.591,.691,.775,.85,.892,.913,.916,.916];
const dHigh=[[42,-9.13,-9,[-8.74,-8.65],[-8.55,-8.26],[-8.12,-7.35],[-7.16,-6.39]],[41,-9.42,[-9.17,-8.88],[-8.78,-8.59],[-8.45,-8.26],-8.12],[40,-10.01,-9.63,[-9.38,-9.23],[-9.13,-8.98],-8.5],[39,[-9.63,-9.47],[-9.04,-8.8],[-8.69,-8.5]],[38,-9.71,[-9.38,-8.9]],[37,[-9.04,-8.86],-8.62],[36,-10.09,[-9.69,-9.42],[-9.23,-8.94]],[35,-9.98,-9.63,-9.38,-9.17],[34,-10.13,-9.78,-9.47,[-9.17,-9.06]],[33,-9.92,[-9.47,-9.13]],[32,-9.98,[-9.74,-9.26]],[31,[-9.74,-9.5]],[30,[-9.61,-9.22]],[29,[-10.47,-10.33],[-10.23,-10.09],-9.8,[-9.41,-9.32]],[28,[-10.37,-10.28],[-10.18,-9.98],[-9.88,-9.74],-9.37],[27,-10.83,-10.47,[-10.23,-10.09],[-9.94,-9.76],-9.65,-9.5],[26,-10.49,[-10.28,-10.13],-9.82,-9.6],[25,[-10.81,-10.67],-10.57,[-10.37,-10.04],-9.82,-9.63],[24,-10.97,-10.76,[-10.5,-10.09],[-9.94,-9.55]],[23,-10.92,[-10.67,-10.57],-10.37,[-10.18,-9.8],-9.65],[22,-10.76,[-10.62,-10.47],[-10.33,-10.18],[-10.04,-9.9]],[21,-10.95,-10.81,-10.57,[-10.33,-9.94]],[20,-11.38,-11.24,[-10.81,-10.62],[-10.52,-10.37],[-10.28,-10.04]],[19,[-11.38,-11.24],-11.04,[-10.81,-10.09]],[18,[-11.24,-11],-10.9,[-10.71,-10.57],[-10.42,-10.18]],[17,[-11.53,-11.19],[-11.04,-10.42]],[16,-11.72,[-11.57,-11.33],[-11.29,-11.1],[-11,-10.33]],[15,-11.77,[-11.62,-11.48],[-11.38,-11.04],[-10.95,-10.42]],[14,-11.85,[-11.72,-11.53],[-11.46,-11.19],[-11.1,-10.57]],[13,-11.98,[-11.82,-11.62],[-11.53,-10.71]],[12,-12.15,[-12,-11.9],[-11.77,-11.53],[-11.43,-10.81]],[11,-12.34,[-12.1,-11.48],[-11.38,-10.95]],[10,-12.34,[-12.2,-11.24]],[9,-12.48,-12.2,[-12.03,-11.38]],[8,-13,[-12.67,-11.62]],[7,[-12.82,-11.9]],[6,[-13.15,-12.43]],[5,-13.44,-13.27,-13.1,[-12.98,-12.82]]];
const dMid=[[42,[-7.35,-7.16],[-6.39,-5.75],[-5.7,-5.04],[-4.85,-4.56],-4.37,-4.23,-4.08,-3.94,-3.7,-3.58,-3.44,-3.14],[41,[-7.73,-7.59],-7.45,[-7.25,-7.16],[-7.06,-6.82],[-6.68,-6.44],[-6.2,-6.05],-5.74,-5.31],[40,[-8.36,-8.12],[-7.93,-7.49],-7.4,[-7.2,-6.82],[-6.68,-6.44],-5.96,-5.14,-4.95],[39,[-8.45,-8.31],-8.07,[-7.88,-7.73],[-7.54,-7.45],[-7.35,-7.06],-6.53,-6.29,-6],[38,[-8.55,-8.41],-8.17,[-7.97,-7.64]],[37,-8.65,[-8.41,-8.26],-7.88],[36,[-8.74,-8.36],-8.17],[35,[-8.74,-8.17]],[34,[-8.98,-8.65],-8.45],[33,-8.9,-8.36],[32,[-9.08,-8.45]],[31,[-9.08,-8.69]],[30,[-9.08,-8.5]],[29,[-9.22,-8.55]],[28,[-9.17,-8.84],-8.69],[27,[-9.17,-8.65]],[26,[-9.51,-9.13],-8.89],[25,[-9.27,-8.89]],[24,[-9.56,-8.84]],[23,[-9.7,-9.08]],[22,[-9.56,-9.22],-9.08],[21,[-9.89,-9.7],-9.56,[-9.27,-9.03]],[20,[-9.94,-9.17]],[19,[-10.09,-9.17]],[18,[-9.89,-9.37]],[17,[-10.28,-9.8],[-9.56,-9.32]],[16,[-10.18,-9.85],[-9.8,-9.37]],[15,[-10.37,-10.09],[-9.94,-9.7],-9.41],[14,[-10.42,-10.09],[-9.94,-9.46]],[13,[-10.66,-10.13],[-9.85,-9.56]],[12,[-10.81,-10.66],[-10.52,-9.94]],[11,[-10.9,-10.33],[-10.28,-9.7]],[10,[-11.19,-10.33],[-10.23,-9.85]],[9,[-11.38,-9.99]],[8,[-11.62,-10.04]],[7,[-11.91,-10.18]],[6,[-12.3,-10.61],[-10.47,-10.33]],[5,[-12.75,-10.52]],[4,-13.64,-13.42,-13.26,[-13.11,-10.61]],[3,-13.95,-13.64,-13.42,-13.23,-13.09,[-12.97,-11]],[2,-14.34,-13.95,-13.64,-13.42,-13.23,-13.09,-12.97,[-12.82,-11.19]],[1,-15.03,-14.34,-13.95,-13.64,-13.42,-13.23,-13.09,[-12.97,-11.67]]];
const dLow=[[38,[-7.01,-6.72],-6.44,-6.22,-5.48],[37,-7.64,[-7.3,-7.2],-6.92,-6.53],[36,[-7.97,-7.78],-7.59,[-7.06,-6.92],-6.63,-6.46,-4.78],[35,[-8.07,-7.83],-7.01,-6.53,[-6.2,-6.1]],[34,[-8.17,-7.97],[-7.54,-7.4],-7.25,-7.06,-6.1,-5.74],[33,-8.21,-8.07,[-7.88,-7.78],-7.54,-7.27,-6.72,-5.02],[32,-8.21,-8.07,-7.83,[-7.59,-7.49],-7.11,-6.87,-6.72,-6.29],[31,[-8.45,-8.21],[-7.83,-7.68],-7.46,-6.92,-6.34],[30,-8.26,-8.07,-7.83,[-7.59,-7.49],-7.25,[-6.72,-6.63],-6.12],[29,-8.45,-8.26,-8.12,-7.97,-7.7,-7.35],[28,[-8.45,-8.31],[-8.17,-7.97],-7.59,-6.6],[27,[-8.6,-8.36],-8.21,-8.07,-7.93,-7.61],[26,[-8.55,-8.36],[-8.17,-7.97],-7.88,-7.52,-5.73],[25,-8.74,-8.07,-7.73],[24,[-8.79,-8.55],-8.26,-7.97,-7.8,-6.8],[23,[-8.45,-8.17],-7.73,-6.94],[22,[-8.98,-8.84],-8.66,-8.17,-7.83],[21,[-8.89,-8.6],-8.21,-7.94,-6.08],[20,-9.08,[-8.89,-8.55],-8.34,-7.97,-7.32],[19,-8.89,-8.72,-8.53,-7.68],[18,[-9.13,-8.65],[-8.55,-8.36],-8.21,-7.42],[17,[-9.27,-8.89],[-8.74,-8.65],[-8.45,-8.31],-7.35,-6.75],[16,[-9.27,-8.74],-8.15],[15,-8.98,[-8.55,-8.41],-8.26,[-8.07,-7.97],-7.44],[14,[-9.37,-9.17],[-8.65,-8.55],-7.8,-7.28],[13,[-9.51,-9.27],[-8.93,-8.84],-8.57,-8.36,-8.17],[12,[-9.8,-9.37],[-9.13,-8.89],-8.6,[-8.41,-8.31]],[11,[-9.65,-9.51],[-9.27,-8.84],[-8.69,-8.55],-8.23,-7.85],[10,-9.61,[-9.41,-9.08],[-8.79,-8.6],-8.36,-7.37],[9,[-9.75,-9.13],-8.89,-8.36,-8.1,-7.7,-6.56],[8,[-9.99,-9.56],-9.41,-8.93,[-8.65,-8.55],[-8.31,-8.12],-7.38,-6.82],[7,-10.09,[-9.85,-9.56],[-9.32,-9.17],-8.55,-8.15],[6,[-10.28,-9.8],-9.65,-9.41,[-9.17,-8.69],-8.43],[5,[-10.37,-10.18],-9.94,-9.75,-9.37,-8.26,-7.97],[4,[-10.57,-10.04],-9.65,[-9.46,-9.32],[-8.55,-8.45],-7.64],[3,[-10.85,-10.23],-10.09,[-9.85,-9.56],-9.27,-8.98,-8.65],[2,[-11.14,-10.81],-10.61,-10.23,[-9.75,-9.61],-9.39,-8.79,-8.36],[1,[-11.62,-11.1],-10.71,-10.57,-10.42,-10.23,-9.99,-9.85,-9.51,-9.24,-8.1]];

// ---------- panel e (AS, 90 samples)
const eXTicks=[-16,-12,-8,-4];
const ePie=[21.7,71.6,6.7];
const eFitX=[-15.61,-14.16,-13.38,-12.59,-11.81,-11.12,-10.63,-10.29,-9.94,-9.65,-9.35,-9.06,-8.86,-8.62,-8.37,-8.13,-7.88,-7.59,-7.2,-3.52];
const eFitY=[0,.003,.007,.015,.032,.057,.108,.175,.259,.344,.428,.529,.613,.714,.815,.891,.95,.988,1,1];
const eUpX=[-15.61,-14.36,-13.77,-13.08,-12.49,-11.81,-11.32,-10.83,-10.34,-9.94,-9.65,-9.31,-9.01,-8.72,-8.42,-8.18,-7.88,-7.69,-7.39];
const eUpY=[.044,.047,.057,.065,.086,.112,.154,.2,.276,.377,.444,.537,.655,.74,.849,.908,.963,.984,.997];
const eLoX=[-15.61,-13.77,-12.59,-11.61,-11.02,-10.53,-10.14,-9.75,-9.45,-9.16,-8.86,-8.57,-8.27,-8.03,-7.78,-7.49,-7.1,-3.52];
const eLoY=[0,0,.005,.032,.065,.099,.158,.234,.31,.411,.495,.613,.74,.824,.891,.942,.956,.956];
const eHigh=[[90,[-7.25,-7.1],-6.95,-6.6],[89,-8.8,-8.6],[87,[-8.6,-8.45]],[86,-9.15,-8.8,-8.55,-8.2],[84,-9.2,-8.4],[83,-9.65,[-8.55,-8.3]],[82,-9.3,-8.4],[81,-8.55,-8.45],[80,-8.5],[79,[-9.5,-9.4]],[78,-9,-8.7],[77,-10.15,-9.5,-9],[76,-9.95,[-9.7,-9.55],-9.1,[-8.85,-8.75]],[75,-9.4,-9.15,-8.45],[74,-9.75,-8.95],[71,-10.15,-9.6,-9.2,-8.9,-8.75],[70,-9.25,-8.9,-8.75],[69,-9,-8.65],[68,-9.9,[-9.4,-9.35],-9.05],[67,-10.15,-9.9,-9.75,-9.35,[-9.1,-9]],[65,-9.5,-9.1],[64,-9.5],[63,-10.6,-10.4],[62,[-10.4,-9.95]],[61,-9.55,-9.2],[60,-10.55,-9.7,-9.35],[59,-9.55,-9.1],[58,-10.6,-10.2,[-9.5,-9.35]],[57,-10.1,-9.95,-9.65],[56,-10.7,-10.2,-9.85],[55,[-10.45,-10.35],[-9.75,-9.5]],[54,-11,-10.8,-9.55,-9.35],[53,[-10.3,-10.2],-9.6,-9.3],[52,-9.85],[51,[-10.95,-10.6],[-10.45,-10.35],-10.15,-9.8],[50,-10.15,[-9.65,-9.5]],[49,-10.35,-10.2,-9.9],[48,-11.2,-11.05,-10.9,[-10.55,-10.35],-10.2,[-10,-9.85],-9.7],[47,-10.8,[-10.5,-10.35],-10.1,-9.85,-9.6],[46,-11.15,-10.25,-9.5],[45,-11.35,-10.7,-10.2,-9.75,-9.55],[44,[-10,-9.75]],[43,[-11.25,-11.15],-10.95,-10.65,-10.4,-10.1,-9.9,-9.7],[42,-11.3,-10.4],[41,-11.25,-10.8,-10.6,[-10.45,-10.3],-9.9,-9.75],[40,-11.3,-10.05],[39,[-11.3,-11.15],-11,[-10.65,-10.5],[-10.05,-9.85]],[38,-11.25,[-10.45,-10.3],[-9.95,-9.8]],[37,-11.45],[36,[-11.75,-11.3],-11.05,[-10.45,-10.3],-10.15],[35,[-11.6,-11.45],[-11.15,-11],[-10.8,-10.6]],[34,[-11.7,-11.5],[-11.05,-10.95],-10.5,[-10.15,-9.95]],[33,[-11.65,-11.45],[-11.15,-10.9],[-10.65,-10.45],[-10.3,-9.95]],[32,[-11.8,-11.55],[-10.8,-10.7],-10.5,-10.05],[31,[-11.55,-11.4],-11.3,[-10.95,-10.65],-10.25],[30,[-12,-11.8],-11.2,[-10.7,-10.3],-10.05],[29,[-11.7,-11.4],[-11.2,-10.9],-10.4,-10.2],[28,-12.05,[-11.45,-11.25],[-11.05,-10.65]],[27,[-12.1,-11.85],[-11.65,-11.25],[-10.95,-10.65],-10.4],[26,[-12.05,-11.95],[-11.75,-11.15],[-10.75,-10.55]],[25,[-12.2,-12.1],[-11.45,-10.85]],[24,[-12.35,-11.85],-11.65,[-11.25,-10.85],-10.65],[23,[-12.25,-11.8],[-11.4,-11],[-10.75,-10.55]],[22,[-12.2,-12.05],[-11.85,-11.75],[-11.6,-11.35],-10.95,-10.7],[21,[-12.5,-12],-11.8,[-11.6,-11.45],-11.25,[-10.95,-10.65]],[20,[-12.55,-12.05],[-11.85,-11.75],[-11.55,-11.05]],[19,[-12.6,-11.95],[-11.75,-11.35],[-11.15,-10.95]],[18,-12.75,[-12.55,-12.15],[-11.75,-11.05]],[17,[-12.85,-12.75],[-12.6,-11.85],[-11.45,-10.95]],[16,[-12.75,-11.4]],[15,[-12.9,-11.75],[-11.65,-11.05]],[14,[-12.95,-11.35]],[13,[-13.15,-11.35]],[12,[-13.2,-11.65]],[11,[-13.2,-11.85]],[10,[-13.2,-11.95]],[9,[-13.45,-12.05]],[8,-13.6,[-13.45,-12.55]],[7,-13.6,[-13.45,-12.6]],[6,-13.9,-13.75,-13.6,[-13.45,-13.1]],[5,-14.1,-13.9,-13.75]];
const eMid=[[90,[-6.1,-5.65],[-5.45,-5.05],-4.65,-4.5,-4.35,-4.05,-3.8],[89,[-7.1,-6.65],-5.85,-3.6],[88,[-7.1,-5.4],[-5.25,-4.65],-4.45,-3.85,-3.55],[87,[-7.55,-7.25],[-6.55,-6.15]],[86,[-7.7,-7.25]],[85,[-7.88,-7.45]],[84,[-8.03,-7.55]],[83,[-8.17,-7.7]],[82,[-8.25,-7.87]],[80,[-8.1,-7.9]],[78,[-8.35,-8.05]],[76,[-8.35,-8.1]],[74,[-8.4,-8.2]],[72,[-8.6,-8.15]],[71,[-8.55,-8.15]],[70,[-8.65,-8.2]],[69,[-8.7,-8.25]],[68,[-8.75,-8.3]],[65,[-8.85,-8.65]],[64,[-8.8,-8.45]],[62,-8.85,[-8.65,-8.5]],[59,[-8.85,-8.5]],[58,[-9,-8.5]],[57,[-9.05,-8.95],-8.7],[55,[-9.1,-8.95],-8.75],[53,[-9.15,-8.8]],[52,[-9.1,-8.85]],[50,[-9.25,-9.05],[-8.8,-8.7]],[47,[-9.35,-9]],[45,[-9.35,-8.85]],[43,[-9.45,-9.2]],[42,[-9.45,-9.2]],[40,[-9.55,-9.25]],[39,[-9.55,-9.3]],[37,[-9.7,-9.35]],[35,[-9.85,-9.45]],[34,[-9.95,-9.6]],[33,[-9.95,-9.55]],[31,[-10,-9.6]],[30,[-10.1,-9.95],[-9.7,-9.45]],[27,[-10.1,-9.85],-9.75],[26,[-10.4,-10.1],-9.95],[25,[-10.35,-9.7]],[24,[-10.5,-9.75]],[23,[-10.5,-9.75]],[21,[-10.5,-10.05]],[20,[-10.65,-9.95]],[19,[-10.65,-9.85]],[18,[-10.85,-9.95]],[17,[-11.05,-10.35],[-10.15,-9.85]],[16,[-11.15,-10.05]],[15,[-11.25,-10.35],[-10.2,-10.1]],[14,[-11.35,-10.05]],[13,[-11.35,-10.55]],[12,[-11.65,-10.45]],[11,[-11.8,-10.8]],[10,[-11.95,-10.6]],[9,[-12.55,-10.55]],[8,[-12.55,-10.85]],[7,[-12.95,-10.65]],[6,[-13.5,-11.1]],[5,[-13.85,-11.2]],[4,[-14.05,-11.5]],[3,-14.2,-14.05,[-13.85,-11.6]],[2,-15,-14.55,-14.2,-14.05,[-13.85,-12.15]],[1,-15.65,-15,-14.55,-14.2,-14.05,[-13.85,-12.65]]];
const eLow=[[87,[-7.5,-6.85],-6,-5.85],[86,[-7.35,-6.9],-6.6,-5.8],[84,-7.5,-7.2,-6.9,-6.6,-5.55,-5.3],[83,-7.65,-7.3,[-6.9,-6.75],-6.3,-5.55,[-5.45,-5.35]],[82,-7.5,-7.15,-6.8,-6.35,[-6,-5.8],-5.5],[81,-7.8,-7.55,-7.2,-6.55,-5.95,-5.4,-5.3],[80,-7.65,-7.45,-6.9,-6.1],[79,-7.65,[-7,-6.85],-6.7,-3.75],[78,-7.4,-7.05,-6.65,[-5.65,-5.6],-4.2],[77,-7.75,-7.5,-7.3,-6.6,-5.45],[76,-7.7,-7.35,-7.1,-6.75],[75,-7.55,-7.3,-7.05,-6.45,-6.35],[73,-7.6,-7.15,-6.55],[72,-7.7,-7.4,-7.2,-6.65,-6.05],[71,[-7.9,-7.2],-7.05,-6.75],[70,[-8,-7.8],-7.2,[-6.95,-6.85]],[69,[-8,-7.75],-7.35,-7.1,-6.75,-6.55,-5.95],[68,[-8,-7.8],-7.45,-6.95,-6.5,-6.4],[67,[-8.05,-7.7],-7.5,-7.25,-6.85,-6.45,-6.35],[66,[-8.05,-7.9],-7.55,-6.9],[64,-7.35,-7.2,-6.9,-4.5],[63,-8.1,-7.5,-6.5,-6.05],[62,-7.8,-7.25,-7.05,-6.3],[61,-8.45,-7.65,-7.35,-6.95],[60,-8.3,-7.45,-7.1,-6.8,-5.55],[59,-8.05,[-7.6,-7.45],[-7,-6.9],-6.65],[58,-8.45,-8.2,-7.75,[-7.3,-7.25],-6.75,-4.75],[57,-8.65,-7.95,[-7.65,-7.45],[-6.85,-6.75]],[56,[-8.4,-8.25],-8.05,-7.8,-6.2],[55,[-8.6,-8.3],-7.75,-7.45,-5.75],[54,-8.6,-7.75,-7.55,-7.2],[53,[-8.35,-8.25],[-7.85,-7.65],-5.6,-5.35],[52,[-8.45,-8.1],-6.65],[51,[-8.5,-8.2],-7.95,-7.85],[50,[-8.45,-8.25],-7.6,-7.35,-6.85,-4.75],[49,-8.6,-8.1,-7.3],[48,[-8.7,-8.45],-8.35,[-8.2,-8.1],-7.5,-6.6,-6.4],[47,-8.65,-8.35,-6.75,-6.2],[46,-8.85,-8.6,-8.2,-7.85,-6.85,-6.05],[45,-8.9,-8.6,-8.25],[44,[-8.75,-8.55],-7.5],[43,[-8.9,-8.7],-7.65,-7.1,-5.95],[42,-8.75,-8.5,[-7.5,-7.35],-7],[41,[-8.85,-8.6],-8.3,-7.5,-7.1],[40,-9.05,-8.55,-8.3,-7.55,-5.9],[39,[-8.7,-8.45],-8.2,[-7.75,-7.5],-7],[38,-8.8,-8.5,-7.5,-6.7,-5.8],[37,[-7.6,-7.5]],[36,-9.15,-8.9,-8.4,-8.1,-6.55,-6.9],[35,-8.7,-8.5,-8.3,-7.35,-7.05,-5.7],[34,-9.15,-8.85,-8.65,-8.4,-7.05],[33,[-8.9,-8.7],-8.25,-7.95,-6.9,-6.7,-6.1],[32,-9.1,[-8.75,-8.45],-8.2,-7.8,-7,-5.8],[31,-8.9,-8.6,-8.3,-7.95,-6.35,-6.95,-6.8],[30,[-9.25,-9.05],-8.85,-8.6,-8.4,-8.1,-7.7,-7.35],[29,-9.15,-9,-8.6,-8.3,-7.55,-7],[28,-9.35,-8.8,-8.55,-7.9,-7.5],[27,-9.1,-8.2,-7.6,-7.35,-6.95],[26,-9.35,-8.95,-8.7,-7.95,-5.85],[25,[-9,-8.75],-8.45,-7.55],[24,-9.4,-8.8,-8.35,-8.15,-6.95,-6.7,-6.5,-6.1],[23,-9.1,-8.95,-8.65,-7.9,-7.65,-7.35,-6.85],[22,-9.35,-8.95,-8.6,-8.25,-7.95,-7.3,-6.85,-6.4],[21,-9.6,-9.4,-9.15,-8.75,-8.45,-7.25,-6.95,-6.15],[20,[-9.75,-9.5],-9.2,-8.9,-8.4,-8.15,-7.7],[19,-9.6,-9.35,-9,-8.65,-8.25,-7.55,-6.85,-6.15],[18,-9.7,-9.3,-8.7,-8,-7.2],[17,-9.9,[-9.6,-9.45],-9.25,-8.7,-7.55,-7.1],[16,[-10,-9.7],-9.5,-9.2,[-8.85,-8.75],-8.3,-6.95],[15,[-9.95,-9.7],-9.55,-9.2,-8.85,-6.8],[14,-10.1,-9.45,-8.75,-7.55,-7.15,-6.75],[13,-9.95,-9.55,-9.35,-9.15,-8.6,-8.35,-7.75,-7.15],[12,[-10.1,-9.8],[-9.6,-9.15],-8.7,-8.4,-8.05,-7.9],[11,-10.25,-9.9,-9.7,-9.4,-9.05,-8.25,-8.05,-7.95],[10,[-10.35,-10.15],[-9.95,-9.75],-9.5,[-9.25,-9.05],-8.85,-8,-7.85],[9,-10.5,-10.2,-9.85,-8.95],[8,[-10.5,-10.35],-10.1,-9.9],[7,[-10.55,-10.2],-6.95,-7.35],[6,[-10.75,-10.45],-9.75],[5,[-11.05,-10.65],-10,-9.65,-9,-8.9,-7.35],[4,[-11.2,-10.8],-10.6,-10.45,-10.25,-9.7,-9.15,-8.95],[3,[-11.5,-10.5],[-10.05,-9.85],-9.45],[2,[-11.6,-10.15],[-9.75,-9.2],[-9.05,-8.95],-7.85,-7.4,-7.15],[1,[-12.15,-10.45],-10.3]];

// ---------- panel f (AM, 51 samples)
const fXTicks=[-12,-8,-4];
const fPie=[19.1,71.5,9.4];
const fFitX=[-15.11,-13.7,-12.88,-12.16,-11.54,-11.02,-10.61,-10.2,-9.89,-9.64,-9.38,-9.07,-8.81,-8.56,-8.35,-8.14,-7.94,-7.73,-7.42,-7.12,-6.7,-2.36];
const fFitY=[0,.006,.014,.025,.042,.075,.113,.163,.222,.28,.356,.431,.498,.6,.675,.75,.826,.9,.968,.993,1,1];
const fUpX=[-15.11,-13.7,-12.88,-12.16,-11.54,-11.02,-10.61,-10.2,-9.89,-9.48,-9.17,-8.92,-8.66,-8.45,-8.25,-7.99,-7.68,-7.32,-7.01];
const fUpY=[.073,.081,.096,.113,.138,.172,.214,.272,.331,.415,.507,.574,.658,.733,.8,.884,.951,.993,1];
const fLoX=[-15.11,-12.88,-11.95,-11.13,-10.51,-10.1,-9.64,-9.28,-8.97,-8.66,-8.45,-8.2,-7.94,-7.68,-7.42,-7.12,-6.81,-6.5,-2.36];
const fLoY=[0,.003,.008,.029,.054,.096,.163,.239,.314,.415,.473,.566,.666,.767,.851,.902,.925,.929,.929];
const fHigh=[[51,-7.6,-7.35,[-7.13,-6.72],[-6.67,-6.52],[-6.42,-6.27],[-6.17,-5.72]],[50,-8.55,-8.13],[49,[-7.94,-7.79]],[48,-9.18,-8.5,[-8.2,-8.1],[-8,-7.85]],[47,-7.7],[46,[-8.4,-8.25],[-7.96,-7.84]],[45,-8.33,-8.14],[44,-9.4,-9.2,-8.73,-8.4,[-8.2,-8]],[43,[-8.33,-8.2]],[42,-8.55,-8.27],[41,-9.28,-8.63,-8.25],[40,-9.13,-8.82,-8.4],[39,[-9.33,-9.13],[-8.92,-8.82],-8.4],[38,[-8.85,-8.62],-8.45],[37,[-9.28,-8.97],[-8.87,-8.66]],[36,-9.6,-9.2,-9.07,-8.8],[35,-9.38,-8.97],[34,[-10.05,-9.9],-9.74,-9.28,-8.92],[33,-10.75,-9.33,[-9.18,-8.97],-8.66],[32,-10.2,-9.84,[-9.53,-9.4],[-9.18,-8.82]],[31,-10.75,-10.15,-9.38,[-9.18,-9]],[30,-10.05,-9.53,[-9.33,-9.07]],[29,-10.95,[-9.48,-9.07]],[28,[-10.3,-10.15],[-9.79,-9.64],[-9.53,-9.23]],[27,-10.61,-10.1,[-9.74,-9.58],-9.38],[26,-10.77,-10.38,-10.2,[-9.95,-9.84],[-9.74,-9.48],-9.28],[25,[-10.05,-9.84],[-9.48,-9.28]],[24,-11.05,-10.61,-10.2,[-9.89,-9.69],-9.53,-9.28],[23,-11.46,-10.61,[-10.25,-10.15],-9.89,-9.74],[22,[-10.66,-10.56],[-10.1,-9.95],-9.74],[21,-10.89,[-10.36,-10.2],-9.84,[-9.6,-9.48]],[20,-10.87,-10.66,-10.51,[-10.3,-9.79]],[19,-11.38,-11.12,[-10.71,-10.61],[-10.36,-10.2],[-10.05,-9.84]],[18,-11.54,-11.07,[-10.82,-10.66],[-10.56,-10.2],[-9.89,-9.79]],[17,-11.89,-11.35,[-11.02,-10.87],-10.71,-10.46,[-10.05,-9.89]],[16,[-11.49,-11.35],-11.12,-10.71,[-10.4,-10.2],-9.95],[15,-11.62,-11.23,-11.07,[-10.87,-10.3]],[14,-12.1,-11.84,[-11.62,-11.54],-11.35,[-11.07,-10.82],[-10.61,-10.46],[-10.3,-10.1]],[13,-11.95,[-11.38,-10.51]],[12,-12.07,-11.74,[-11.49,-11.28],[-11.07,-10.92],[-10.61,-10.3]],[11,-12.25,[-11.89,-11.49],[-11.28,-10.61]],[10,-12.73,-12.25,[-12.01,-11.13],-10.82],[9,-12.73,[-12.52,-12.25],[-12.1,-11.99],[-11.74,-11.28],[-11.13,-10.87]],[8,[-12.58,-12.43],[-12.1,-11.54],[-11.49,-11.18]],[7,-13.18,-12.95,-12.65,[-12.55,-12.05],-11.79],[6,[-13.34,-12.73],[-12.16,-11.85]],[5,-13.49,[-13.34,-12.88],[-12.68,-12.47]],[4,-13.75]];
const fMid=[[51,[-5.72,-4.44],[-4.34,-4.18],[-4.08,-3.92],-3.25,-2.66,-2.41],[50,-6.86,-6.6,[-6.4,-6.2],[-5.79,-5.64],-5.46],[49,-7.56,-7.2,[-6.94,-6.68],-6.17,-5.97,[-5.77,-5.61],[-4.52,-4.42]],[48,[-7.64,-7.44],[-7.2,-6.75],-6.44,[-6.03,-5.87],-5.43,-5.2],[47,[-7.25,-7.05],-6.95],[46,-7.7,-7.4,-7.2],[45,[-7.84,-7.64],-7.38],[44,-8.04],[43,[-8.04,-7.79]],[42,-8.01,-7.72],[41,[-8.2,-7.85],-7.6],[40,-8.14,-7.73],[39,-8],[38,-7.79],[37,-8.14,-7.85],[36,-8.66,-8.4,[-8.2,-8.04]],[34,[-8.61,-8.4]],[33,-8.7,-8.22],[32,[-8.56,-8.4],-8.07],[31,-8.79],[30,[-9,-8.8],-8.22],[29,-9,-8.6,-8.33],[28,[-8.87,-8.5]],[27,[-9.07,-8.71],-8.4],[26,[-8.87,-8.46]],[25,-8.45],[24,[-9.18,-9.07],-8.81],[23,-9.28,-9.07,[-8.81,-8.71]],[22,[-9.28,-9.18],-8.9],[21,[-9.38,-9.23],-8.87],[20,-9.6,-9.38],[19,-9.64,-9.38,[-9.02,-8.92]],[18,-9.58,-9.38,-9.18,-8.97],[17,[-9.79,-9.64],-9.43,[-9.23,-9.02]],[16,[-9.95,-9.6],[-9.28,-9.07]],[15,-10.05,-9.69,[-9.43,-9.28],-9.04],[14,[-10.1,-9.58],[-9.23,-9.07]],[13,[-9.79,-9.28]],[12,[-10.1,-9.79],[-9.58,-9.33]],[11,[-10.2,-9.79],[-9.58,-9.33]],[10,[-10.66,-9.84],[-9.64,-9.38]],[9,[-10.61,-10.05],-9.79,-9.43],[8,[-10.82,-9.95],[-9.84,-9.53],-9.38,-9.28],[7,[-11.43,-11.07],[-10.95,-10.82],[-10.71,-10.46],[-10.36,-9.74]],[6,[-11.85,-10.97],[-10.76,-10.25],-9.99],[5,[-12.35,-10.97],[-10.87,-10.25],-9.84],[4,[-13.54,-11.02],[-10.92,-10.2]],[3,-14.01,-13.73,-13.51,[-13.34,-11.64],[-11.54,-10.41]],[2,-14.42,-14.01,-13.73,-13.51,[-13.34,-11.85],[-11.79,-10.71]],[1,-15.11,-14.42,-14.01,-13.73,-13.51,[-13.34,-11.13]]];
const fLow=[[47,[-6.88,-6.67],-6.41,-5.97,-5.7],[46,-6.22,[-5.77,-5.67]],[45,[-6.46,-6.3]],[44,-7.07,-6.49],[43,-7.3,[-7,-6.72],-6.46],[42,-6.6,-6.25],[41,-7.05],[40,-7.6,-7.3,-6.76,-5.9],[39,[-7.7,-7.55],-6.87],[38,[-7.5,-7.08],-6.87,-6.43,-5.87],[37,-7.35,-7.04,[-6.68,-6.53],-6.37],[36,-7.8,[-6.86,-6.76]],[35,-7.3,-4.67],[34,[-7.3,-7.15],-6.49],[33,-8,-7.73,-7.5],[32,[-7.73,-7.53],-7.22,-6.66],[31,-8.09,-7.58,-7.34],[30,-7.98,-7.66],[29,-7.84,-7.59,-7.08,-6.05],[28,-8.14,-7.81,-7.34,-6.86],[27,-8.09,-7.78,-7.32,-6.88,-6.54],[26,[-8.3,-8.14],-7.75,-7.22],[25,-8.35,-7.69],[24,-8.45,[-8.3,-8.14],-7.42,-7.13,-6.77],[23,-7.79,-6.95],[22,-8.02,-7.6,-6.91],[21,-8.61,-8.4,-7.66,-7.54,-7.23],[20,-8.61,-8.14,-7.69,-4.76],[19,-8.02,[-7.84,-7.64],-7.5,-6.73],[18,-8.37,-7.88,-7.5],[17,-8.76,-8.4,-8.22,-6.6],[16,-8.04,-7.73],[15,[-8.81,-8.56],-8.3,[-7.95,-7.8],-7.04],[14,-8.7,-8.55,-8.2,-8,-7.5],[13,[-8.92,-8.71],-8.56,[-7.9,-7.85]],[12,[-9.02,-8.71],-8.61,[-8.25,-8.2],-7.85,-7.58],[11,-9.02,-8.77,-8.5,-8.3],[10,[-9.28,-9.07],-8.77,[-8.56,-8.46]],[9,-9.33,-8.63,[-8.14,-8.04]],[8,[-9.33,-9.23],-8.87,-8.61,-7.71],[7,[-9.64,-9.28],-8.92,-8.71,-8.56,-8.4],[6,-9.84,[-9.64,-9.23],[-9,-8.66],-8.25,-7.84],[5,-9.85],[4,[-10.1,-9.6],-9.45,[-9.2,-9.02]],[3,[-10.1,-9.74],-8.81],[2,[-10.66,-10.2],[-10.1,-9.95],-9.2],[1,[-11.05,-10.66],[-10.51,-10.3],-9.89,-9.64,-9.4,-9.07]];

const SVGNS='http://www.w3.org/2000/svg';
const COL={mid:'#E5C776',low:'#9A75A8',high:'#E8B2AA'};
const panels=[
 {id:'a',n:42,hi:aHigh,mi:aMid,lo:aLow,fx:aFitX,fy:aFitY,ux:aUpX,uy:aUpY,dx:aLoX,dy:aLoY,pie:aPie,xt:aXTicks,dec:0,
  box:[155,143,1363,1045],sw:4,xc:[-15,177,-5,1096],yc:[1003,182],lx:154,ly:12,xb:1080,xo:4,pc:[979,534,169]},
 {id:'b',n:90,hi:bHigh,mi:bMid,lo:bLow,fx:bFitX,fy:bFitY,ux:bUpX,uy:bUpY,dx:bLoX,dy:bLoY,pie:bPie,xt:bXTicks,dec:0,
  box:[1500.5,143,2705,1043],sw:3,xc:[-15,1562,-6,2426],yc:[1003,182.6],lx:1498,ly:12,xb:1080,xo:5,pc:[2312,582,167]},
 {id:'c',n:51,hi:cHigh,mi:cMid,lo:cLow,fx:cFitX,fy:cFitY,ux:cUpX,uy:cUpY,dx:cLoX,dy:cLoY,pie:cPie,xt:cXTicks,dec:0,
  box:[2878,133.5,4083.5,1035.5],sw:3,xc:[-15,2908,-3,4051],yc:[994,173],lx:2876,ly:12,xb:1067,xo:3,pc:[3702.5,527,168]},
 {id:'d',n:42,hi:dHigh,mi:dMid,lo:dLow,fx:dFitX,fy:dFitY,ux:dUpX,uy:dUpY,dx:dLoX,dy:dLoY,pie:dPie,xt:dXTicks,dec:1,
  box:[161,1202,1375,2111],sw:3,xc:[-15,216,-5,1146],yc:[2069.4,1241.7],lx:157,ly:12,xb:2153,xo:-1,pc:[338,1437.5,168]},
 {id:'e',n:90,hi:eHigh,mi:eMid,lo:eLow,fx:eFitX,fy:eFitY,ux:eUpX,uy:eUpY,dx:eLoX,dy:eLoY,pie:ePie,xt:eXTicks,dec:0,
  box:[1516.6,1202,2725.5,2106],sw:4,xc:[-16,1533.6,-4,2625.5],yc:[2065,1241],lx:1514,ly:12,xb:2137,xo:4,pc:[1701,1421,168]},
 {id:'f',n:51,hi:fHigh,mi:fMid,lo:fLow,fx:fFitX,fy:fFitY,ux:fUpX,uy:fUpY,dx:fLoX,dy:fLoY,pie:fPie,xt:fXTicks,dec:0,
  box:[2899,1202,4114,2111],sw:4,xc:[-12,3223,-4,3917],yc:[2070,1241.7],lx:2897,ly:12,xb:2143,xo:-4,pc:[3084,1403,168]}
];

function make(tag,attrs,parent){
  const el=document.createElementNS(SVGNS,tag);
  for(const k in attrs){el.setAttribute(k,attrs[k]);}
  parent.appendChild(el);
  return el;
}
function monotonePath(xs,ys){
  const n=xs.length,s=[],m=[];
  for(let i=0;i<n-1;i++){s.push((ys[i+1]-ys[i])/(xs[i+1]-xs[i]));}
  m[0]=s[0];m[n-1]=s[n-2];
  for(let i=1;i<n-1;i++){
    const h0=xs[i]-xs[i-1],h1=xs[i+1]-xs[i];
    m[i]=(s[i-1]*s[i]<=0)?0:3*(h0+h1)/((2*h1+h0)/s[i-1]+(h1+2*h0)/s[i]);
  }
  let d='M'+xs[0].toFixed(1)+' '+ys[0].toFixed(1);
  for(let i=0;i<n-1;i++){
    const h=(xs[i+1]-xs[i])/3;
    d+='C'+(xs[i]+h).toFixed(1)+' '+(ys[i]+m[i]*h).toFixed(1)+' '+(xs[i+1]-h).toFixed(1)+' '+(ys[i+1]-m[i+1]*h).toFixed(1)+' '+xs[i+1].toFixed(1)+' '+ys[i+1].toFixed(1);
  }
  return d;
}
function drawPanel(p){
  const g=document.getElementById(p.id+'-marks');
  const xS=v=>p.xc[1]+(v-p.xc[0])*(p.xc[3]-p.xc[1])/(p.xc[2]-p.xc[0]);
  const yS=v=>p.yc[0]+v*(p.yc[1]-p.yc[0]);
  // curves sit beneath the points
  const curves=[[p.ux,p.uy,'upper-confidence-curve','20 11'],[p.dx,p.dy,'lower-confidence-curve','20 11'],[p.fx,p.fy,'neutral-fit-curve','']];
  curves.forEach(function(c){
    const path=make('path',{d:monotonePath(c[0].map(xS),c[1].map(yS)),fill:'none',stroke:'#000','stroke-width':4,'stroke-dasharray':c[3]},g);
    
    
  });
  // points
  [[p.hi,'high'],[p.mi,'mid'],[p.lo,'low']].forEach(function(grp){
    const color=COL[grp[1]];
    grp[0].forEach(function(row){
      const y=yS(row[0]/p.n);
      for(let i=1;i<row.length;i++){
        const it=row[i];
        let el;
        if(Array.isArray(it)){
          el=make('line',{x1:xS(it[0]).toFixed(1),x2:xS(it[1]).toFixed(1),y1:y.toFixed(1),y2:y.toFixed(1),stroke:color,'stroke-width':9,'stroke-linecap':'round'},g);
        }else{
          el=make('circle',{cx:xS(it).toFixed(1),cy:y.toFixed(1),r:4.8,fill:color},g);
        }
        
        
      }
    });
  });
  // frame
  const b=p.box;
  const frame=make('rect',{x:b[0],y:b[1],width:b[2]-b[0],height:b[3]-b[1],fill:'none',stroke:'#000','stroke-width':p.sw},g);
  
  
  if(p.id==='b'){
    const dbl=make('line',{x1:b[0],x2:b[2],y1:1047,y2:1047,stroke:'#000','stroke-width':2},g);
    
    
  }
  // y axis
  yTickValues.forEach(function(v){
    const y=yS(v);
    const t=make('line',{x1:b[0]-4,x2:b[0],y1:y,y2:y,stroke:'#222','stroke-width':2},g);
    
    
    const l=make('text',{x:p.lx,y:y+p.ly,'text-anchor':'end','class':'tick'},g);
    l.textContent=v.toFixed(2);
    
    
  });
  // x axis
  p.xt.forEach(function(v){
    const x=xS(v);
    const t=make('line',{x1:x,x2:x,y1:b[3],y2:b[3]+5,stroke:'#222','stroke-width':2},g);
    
    
    const l=make('text',{x:x+p.xo,y:p.xb,'text-anchor':'middle','class':'tick'},g);
    l.textContent='\u2212'+Math.abs(v).toFixed(p.dec);
    
    
  });
  // pie: clockwise from 12 o'clock
  const cx=p.pc[0],cy=p.pc[1],r=p.pc[2];
  const total=p.pie.reduce(function(a,c){return a+c;},0);
  const sliceCols=[COL.high,COL.low,COL.mid];
  const sliceNames=['pie-slice-pink','pie-slice-purple','pie-slice-yellow'];
  let ang=0;
  p.pie.forEach(function(v,i){
    const a0=ang,a1=ang+v/total*2*Math.PI;
    ang=a1;
    const large=(a1-a0)>Math.PI?1:0;
    const d='M'+cx+' '+cy+'L'+(cx+r*Math.sin(a0)).toFixed(1)+' '+(cy-r*Math.cos(a0)).toFixed(1)+'A'+r+' '+r+' 0 '+large+' 1 '+(cx+r*Math.sin(a1)).toFixed(1)+' '+(cy-r*Math.cos(a1)).toFixed(1)+'Z';
    const s=make('path',{d:d,fill:sliceCols[i]},g);
    
    
  });
}
panels.forEach(drawPanel);
</script>
</body>
</html>
